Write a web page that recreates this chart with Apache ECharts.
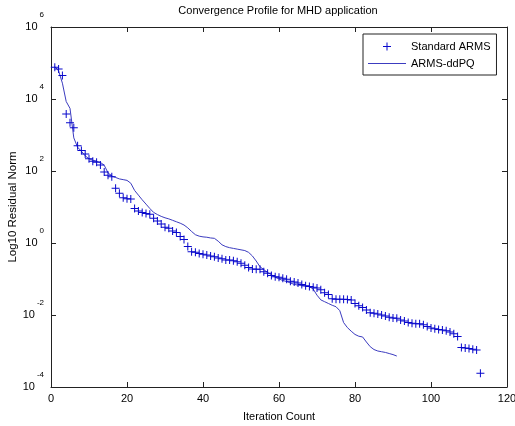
<!DOCTYPE html>
<html><head><meta charset="utf-8">
<script src="https://cdn.jsdelivr.net/npm/echarts@6/dist/echarts.min.js"></script>
<style>html,body{margin:0;padding:0;background:#fff}#c{width:515px;height:426px}</style>
</head><body><div id="c"></div>
<script>
const chartTitle = 'Convergence Profile for MHD application';
const xAxisName = 'Iteration Count';
const yAxisName = 'Log10 Residual Norm';
const seriesNames = ['Standard ARMS', 'ARMS-ddPQ'];
const xTicks = [0, 20, 40, 60, 80, 100, 120];
const yExponentTicks = [-4, -2, 0, 2, 4, 6];

// log10 of residual norm, one value per iteration (1, 2, 3, ...)
const standardArmsLog10 = [
  4.88,4.83,4.65,3.58,3.34,3.20,2.70,2.57,2.47,2.34,
  2.27,2.24,2.17,1.97,1.88,1.84,1.52,1.38,1.26,1.23,
  1.22,0.96,0.89,0.85,0.82,0.80,0.69,0.61,0.53,0.44,
  0.41,0.33,0.29,0.18,0.10,-0.10,-0.24,-0.26,-0.29,-0.31,
  -0.33,-0.36,-0.38,-0.42,-0.44,-0.47,-0.47,-0.49,-0.52,-0.56,
  -0.62,-0.68,-0.72,-0.73,-0.73,-0.80,-0.84,-0.90,-0.94,-0.95,
  -0.98,-1.01,-1.06,-1.08,-1.11,-1.15,-1.19,-1.21,-1.23,-1.25,
  -1.30,-1.38,-1.43,-1.55,-1.56,-1.56,-1.56,-1.57,-1.58,-1.68,
  -1.74,-1.79,-1.86,-1.94,-1.95,-1.97,-2.00,-2.03,-2.06,-2.08,
  -2.09,-2.14,-2.17,-2.21,-2.23,-2.24,-2.24,-2.27,-2.32,-2.36,
  -2.38,-2.40,-2.42,-2.44,-2.47,-2.52,-2.60,-2.90,-2.92,-2.93,
  -2.95,-2.97,-3.62
];
const armsDdpqLog10 = [
  4.90,4.78,4.44,3.93,3.74,2.92,2.66,2.55,2.42,2.34,
  2.30,2.27,2.24,2.16,1.95,1.86,1.82,1.78,1.76,1.74,
  1.66,1.46,1.33,1.20,1.08,0.96,0.85,0.79,0.74,0.70,
  0.67,0.63,0.59,0.55,0.50,0.42,0.32,0.23,0.19,0.17,
  0.16,0.14,0.13,0.05,-0.05,-0.10,-0.13,-0.15,-0.17,-0.19,
  -0.21,-0.26,-0.36,-0.50,-0.66,-0.74,-0.82,-0.88,-0.95,-1.00,
  -1.04,-1.07,-1.11,-1.15,-1.17,-1.18,-1.20,-1.21,-1.28,-1.45,
  -1.58,-1.63,-1.68,-1.73,-1.77,-1.88,-2.21,-2.35,-2.45,-2.54,
  -2.59,-2.61,-2.75,-2.88,-2.96,-3.00,-3.02,-3.04,-3.07,-3.10,
  -3.14
];

const FONT = '"Liberation Sans", Arial, Helvetica, sans-serif';
const toPairs = arr => arr.map((v, i) => [i + 1, v]);
const plusPath = 'path://M3.5,0H4.5V3.5H8V4.5H4.5V8H3.5V4.5H0V3.5H3.5Z';
const legendLinePath = 'path://M0,0H38V1H0Z';

const xMin = xTicks[0], xMax = xTicks[xTicks.length - 1], xInt = xTicks[1] - xTicks[0];
const yMin = yExponentTicks[0], yMax = yExponentTicks[yExponentTicks.length - 1], yInt = yExponentTicks[1] - yExponentTicks[0];

const axisCommon = () => ({
  axisLine: { show: true, onZero: false, lineStyle: { color: '#222', width: 1 } },
  axisTick: { show: true, inside: true, length: 5, lineStyle: { color: '#222' } },
  splitLine: { show: false }
});

const chart = echarts.init(document.getElementById('c'), null, { renderer: 'canvas' });
chart.setOption({
  animation: false,
  backgroundColor: '#fff',
  textStyle: { fontFamily: FONT },
  title: {
    text: chartTitle, left: 278, top: 5, padding: 0, textAlign: 'center',
    textStyle: { fontSize: 11, fontWeight: 'normal', color: '#000', fontFamily: FONT }
  },
  grid: { left: 51, right: 8, top: 27, bottom: 39, containLabel: false, outerBoundsMode: 'none' },
  legend: {
    orient: 'vertical', left: 363, top: 34, padding: [6, 6, 5, 5], itemGap: 4,
    itemWidth: 38, itemHeight: 8,
    borderColor: '#222', borderWidth: 1, backgroundColor: '#fff',
    textStyle: { fontSize: 11, color: '#000', fontFamily: FONT, lineHeight: 13 },
    data: [
      { name: seriesNames[0] },
      { name: seriesNames[1], icon: legendLinePath }
    ]
  },
  xAxis: [
    Object.assign({
      type: 'value', position: 'bottom', min: xMin, max: xMax, interval: xInt,
      name: xAxisName, nameLocation: 'middle', nameGap: 24, nameMoveOverlap: false,
      nameTextStyle: { fontSize: 11, color: '#000', fontFamily: FONT },
      axisLabel: { fontSize: 11, color: '#000', margin: 6, fontFamily: FONT }
    }, axisCommon()),
    Object.assign({
      type: 'value', position: 'top', min: xMin, max: xMax, interval: xInt,
      axisLabel: { show: false }
    }, axisCommon())
  ],
  yAxis: [
    Object.assign({
      type: 'value', position: 'left', min: yMin, max: yMax, interval: yInt,
      name: yAxisName, nameLocation: 'middle', nameGap: 32, nameMoveOverlap: false,
      nameTextStyle: { fontSize: 11.5, color: '#000', fontFamily: FONT },
      axisLabel: {
        margin: 7, color: '#000',
        formatter: v => '{b|10}{sup|' + v + '}',
        rich: {
          b: { fontSize: 11, fontFamily: FONT, color: '#000' },
          sup: { fontSize: 8, fontFamily: FONT, color: '#000', padding: [0, 0, 24, 2] }
        }
      }
    }, axisCommon()),
    Object.assign({
      type: 'value', position: 'right', min: yMin, max: yMax, interval: yInt,
      axisLabel: { show: false }
    }, axisCommon())
  ],
  series: [
    {
      name: seriesNames[0], type: 'scatter', xAxisIndex: 0, yAxisIndex: 0,
      data: toPairs(standardArmsLog10),
      symbol: plusPath, symbolSize: 8, symbolKeepAspect: true,
      itemStyle: { color: '#0808cc', opacity: 1 },
      z: 3
    },
    {
      name: seriesNames[1], type: 'line', xAxisIndex: 0, yAxisIndex: 0,
      data: toPairs(armsDdpqLog10),
      symbol: 'none', showSymbol: false, symbolKeepAspect: true,
      lineStyle: { color: '#3c3cc0', width: 1 },
      itemStyle: { color: '#3c3cc0' },
      z: 2
    }
  ]
});
</script>
</body></html>
